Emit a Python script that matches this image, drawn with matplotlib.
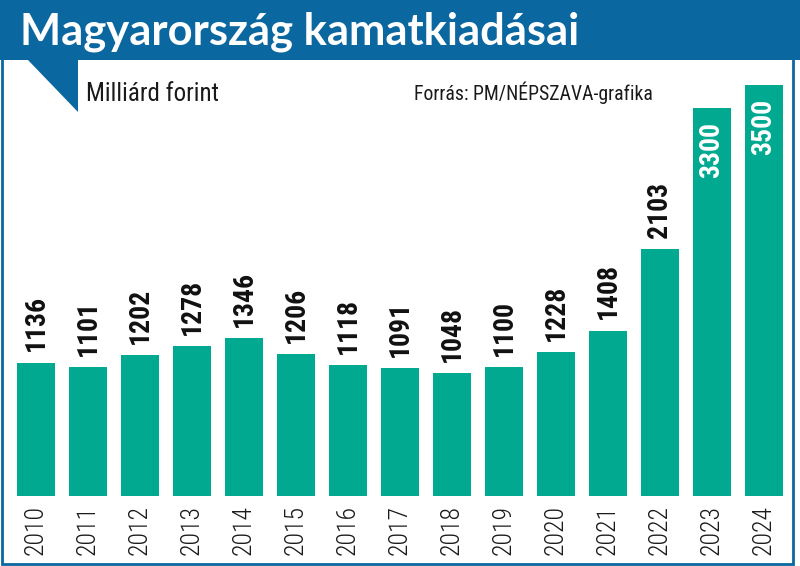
import matplotlib
matplotlib.use("Agg")
import matplotlib.pyplot as plt
from matplotlib.patches import Rectangle, Polygon
from matplotlib import font_manager as fm

years = ["2010", "2011", "2012", "2013", "2014", "2015", "2016", "2017",
         "2018", "2019", "2020", "2021", "2022", "2023", "2024"]
values = [1136, 1101, 1202, 1278, 1346, 1206, 1118, 1091, 1048, 1100,
          1228, 1408, 2103, 3300, 3500]
title = "Magyarország kamatkiadásai"
unit = "Milliárd forint"
source = "Forrás: PM/NÉPSZAVA-grafika"

names = {f.name for f in fm.fontManager.ttflist}

def pick(cands, default="DejaVu Sans"):
    for c in cands:
        if c in names:
            return c
    return default

narrow = pick(["Roboto Condensed", "Fira Sans Condensed", "PT Sans Narrow",
               "Archivo Narrow", "Open Sans Condensed", "Liberation Sans Narrow"])
titlefont = pick(["Lato", "Open Sans"])

BLUE = "#0b67a0"
TEAL = "#00a98f"
W, H = 800, 566

fig = plt.figure(figsize=(8, 5.66), dpi=100)
fig.patch.set_facecolor("white")

def fx(px):
    return px / W

def fy(py):
    return 1 - py / H

# frame
fig.add_artist(Rectangle((fx(2), fy(564)), fx(791), 562 / H, transform=fig.transFigure,
                         fill=False, edgecolor=BLUE, linewidth=2.0, zorder=1))
# title bar
fig.add_artist(Rectangle((0, fy(60)), 1, 60 / H, transform=fig.transFigure,
                         facecolor=BLUE, edgecolor="none", zorder=2))
# triangle tab
fig.add_artist(Polygon([(fx(27), fy(59)), (fx(78), fy(59)), (fx(78), fy(112))],
                       closed=True, transform=fig.transFigure,
                       facecolor=BLUE, edgecolor="none", zorder=2))

fig.text(fx(20), fy(45), title, color="white", fontsize=31.3, fontweight="bold",
         family=titlefont, va="baseline", ha="left", zorder=3)
fig.text(fx(86), fy(101), unit, color="#1a1a1a", fontsize=18,
         family=narrow, va="baseline", ha="left")
fig.text(fx(414), fy(100), source, color="#1a1a1a", fontsize=14.2,
         family=narrow, va="baseline", ha="left")

ax = fig.add_axes([fx(10), fy(496), 780 / W, 436 / H])
ax.set_facecolor("none")
x = list(range(len(years)))
ax.bar(x, values, width=0.72, color=TEAL, edgecolor="none")
ax.set_xlim(-0.5, len(years) - 0.5)
ax.set_ylim(0, 436 / 0.1175)
for s in ax.spines.values():
    s.set_visible(False)
ax.set_yticks([])
ax.set_xticks(x)
ax.set_xticklabels(years, rotation=90, family=narrow, fontsize=18.5,
                   fontweight="light", color="#1a1a1a")
ax.tick_params(axis="x", length=0, pad=6.5)

for xi, v in zip(x, values):
    if v > 3000:
        ax.annotate(str(v), (xi, v), xytext=(0, -10), textcoords="offset points",
                    rotation=90, ha="center", va="top", color="white",
                    fontsize=20, fontweight="bold", family=narrow)
    else:
        ax.annotate(str(v), (xi, v), xytext=(0, 8), textcoords="offset points",
                    rotation=90, ha="center", va="bottom", color="#111111",
                    fontsize=20, fontweight="bold", family=narrow)

fig.savefig("out.png", dpi=100)
